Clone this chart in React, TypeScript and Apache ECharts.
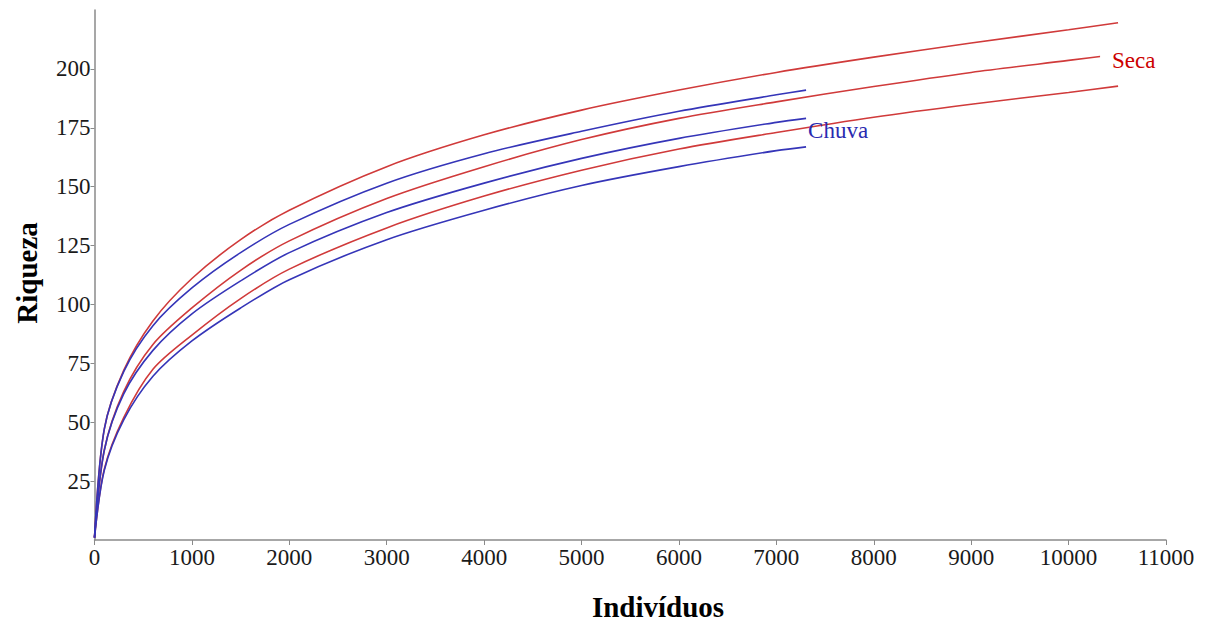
import React, { useEffect, useRef } from "react";
import * as echarts from "echarts";

// Individuals (x) sampling points
const secaX = [0, 100, 300, 600, 1000, 1500, 2000, 3000, 4000, 5000, 6000, 7000, 8000, 9000, 10000, 10508];
const chuvaX = [0, 100, 300, 600, 1000, 1500, 2000, 3000, 4000, 5000, 6000, 7000, 7305];

// Seca (dry season) richness: upper CI, mean, lower CI
const secaUpper = [1, 47, 72, 93, 111, 127.5, 140, 158.5, 172, 182.5, 191, 198.5, 205, 211, 216.6, 219.6];
const secaMean = [1, 38, 63, 83, 98.5, 114.5, 127, 145, 158.5, 170, 179, 186, 192.5, 198.5, 203.6, 206.2];
const secaLower = [1, 30, 52, 72.5, 87, 102.5, 115, 132.5, 146, 157, 166, 173, 179.5, 185, 190, 192.7];

// Chuva (rainy season) richness: upper CI, mean, lower CI
const chuvaUpper = [1, 47, 71.5, 91, 107, 122, 134, 151.5, 164, 173.5, 182, 189, 191];
const chuvaMean = [1, 38, 62, 80.5, 96, 110, 122, 139, 151.5, 162, 170.5, 177.3, 179];
const chuvaLower = [1, 29.5, 51, 69.5, 84.5, 98.5, 110.5, 127.5, 140, 150.5, 158.5, 165.3, 166.9];

const yTicks = [25, 50, 75, 100, 125, 150, 175, 200];

const FONT = '"Liberation Serif", "Times New Roman", serif';
const RED = "#d03a3a";
const BLUE = "#3535b8";

function pairs(xs: number[], ys: number[]) {
  return xs.map((x, i) => [x, ys[i]]);
}

export default function App() {
  const ref = useRef<HTMLDivElement>(null);

  useEffect(() => {
    if (!ref.current) return;
    const chart = echarts.init(ref.current, null, { renderer: "svg" });

    const lineBase = (name: string, data: number[][], color: string) => ({
      type: "line",
      name,
      data,
      smooth: 0.3,
      showSymbol: false,
      symbol: "none",
      lineStyle: { color, width: 1.6 },
      z: 2,
    });

    chart.setOption({
      animation: false,
      backgroundColor: "#ffffff",
      grid: { left: 94.5, right: 42, top: 10, bottom: 84 },
      xAxis: {
        type: "value",
        min: 0,
        max: 11000,
        interval: 1000,
        splitLine: { show: false },
        axisLine: { lineStyle: { color: "#8a8a8a", width: 1.5 } },
        axisTick: { show: true, length: 5, lineStyle: { color: "#8a8a8a" } },
        axisLabel: {
          color: "#1a1a1a",
          fontFamily: FONT,
          fontSize: 23,
          margin: 6,
          formatter: (v: number) => String(v),
        },
      },
      yAxis: {
        type: "value",
        min: 0,
        max: 225,
        interval: 25,
        splitLine: { show: false },
        axisLine: { show: true, lineStyle: { color: "#8a8a8a", width: 1.5 } },
        axisTick: { show: true, length: 4, customValues: yTicks, lineStyle: { color: "#8a8a8a" } },
        axisLabel: {
          color: "#1a1a1a",
          fontFamily: FONT,
          fontSize: 23,
          margin: 4,
          customValues: yTicks,
          formatter: (v: number) => (yTicks.indexOf(v) >= 0 ? String(v) : ""),
        },
      },
      graphic: [
        {
          type: "text",
          x: 27,
          y: 273,
          rotation: Math.PI / 2,
          style: {
            text: "Riqueza",
            font: `bold 29px ${FONT}`,
            fill: "#000",
            textAlign: "center",
            textVerticalAlign: "middle",
          },
        },
        {
          type: "text",
          x: 658,
          y: 607,
          style: {
            text: "Indivíduos",
            font: `bold 29px ${FONT}`,
            fill: "#000",
            textAlign: "center",
            textVerticalAlign: "middle",
          },
        },
      ],
      series: [
        lineBase("Seca sup", pairs(secaX, secaUpper), RED),
        {
          ...lineBase("Seca", pairs(secaX, secaMean), RED),
          endLabel: {
            show: true,
            formatter: "Seca",
            color: "#cc0000",
            fontFamily: FONT,
            fontSize: 23,
            backgroundColor: "#ffffff",
            padding: [3, 6, 3, 12],
            distance: 2,
            offset: [-20, 6],
          },
        },
        lineBase("Seca inf", pairs(secaX, secaLower), RED),
        lineBase("Chuva sup", pairs(chuvaX, chuvaUpper), BLUE),
        {
          ...lineBase("Chuva", pairs(chuvaX, chuvaMean), BLUE),
          endLabel: {
            show: true,
            formatter: "Chuva",
            color: "#2a2ab0",
            fontFamily: FONT,
            fontSize: 23,
            distance: 2,
            offset: [0, 12],
          },
        },
        lineBase("Chuva inf", pairs(chuvaX, chuvaLower), BLUE),
      ],
    });

    return () => chart.dispose();
  }, []);

  return (
    <div
      ref={ref}
      style={{ position: "absolute", left: 0, top: 0, width: 1208, height: 624 }}
    />
  );
}
